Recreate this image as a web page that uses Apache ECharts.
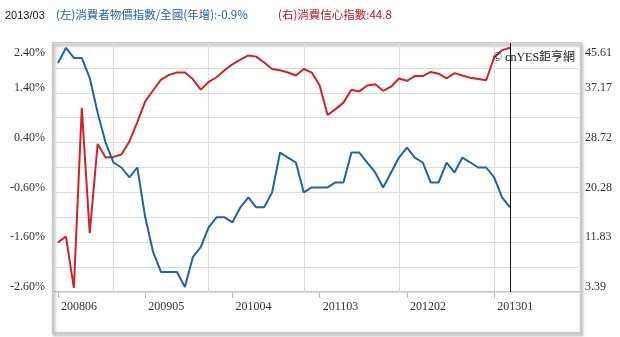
<!DOCTYPE html>
<html>
<head>
<meta charset="utf-8">
<script src="https://cdn.jsdelivr.net/npm/echarts@6/dist/echarts.min.js"></script>
<style>html,body{margin:0;padding:0;background:#fff;}#c{width:620px;height:337px;}</style>
</head>
<body>
<div id="c"></div>
<script>
const months = [
 '200806','200807','200808','200809','200810','200811','200812',
 '200901','200902','200903','200904','200905','200906','200907','200908','200909','200910','200911','200912',
 '201001','201002','201003','201004','201005','201006','201007','201008','201009','201010','201011','201012',
 '201101','201102','201103','201104','201105','201106','201107','201108','201109','201110','201111','201112',
 '201201','201202','201203','201204','201205','201206','201207','201208','201209','201210','201211','201212',
 '201301','201302','201303'
];
const cpi = [
 2.0,2.3,2.1,2.1,1.7,1.0,0.4,
 0.0,-0.1,-0.3,-0.1,-1.1,-1.8,-2.2,-2.2,-2.2,-2.5,-1.9,-1.7,
 -1.3,-1.1,-1.1,-1.2,-0.9,-0.7,-0.9,-0.9,-0.6,0.2,0.1,0.0,
 -0.6,-0.5,-0.5,-0.5,-0.4,-0.4,0.2,0.2,0.0,-0.2,-0.5,-0.2,
 0.1,0.3,0.1,0.0,-0.4,-0.4,0.0,-0.2,0.1,0.0,-0.1,-0.1,
 -0.3,-0.7,-0.9
];
const confidence = [
 11.8,12.8,4.1,34.6,13.4,28.5,26.2,
 26.3,26.7,28.9,32.2,35.7,37.6,39.4,40.2,40.6,40.6,39.5,37.7,
 39.0,39.8,41.0,42.0,42.8,43.5,43.3,42.3,41.2,41.0,40.6,40.1,
 41.2,40.6,38.4,33.4,34.4,35.5,37.7,37.4,38.4,38.6,37.5,38.2,
 39.6,39.2,40.0,40.0,40.7,40.4,39.6,40.5,40.1,39.7,39.5,39.3,
 43.2,44.4,44.8
];
const leftTickLabels = ['-2.60%','-1.60%','-0.60%','0.40%','1.40%','2.40%'];
const rightTickLabels = ['3.39','11.83','20.28','28.72','37.17','45.61'];
const leftMin = -2.6, leftMax = 2.4, leftStep = 0.5;
const rightMin = 3.39, rightMax = 45.61, rightStep = 4.222;

const serif = '"Liberation Serif","Noto Sans CJK TC",serif';
const cjk = '"Noto Sans CJK TC","Noto Sans",sans-serif';

function tickFmt(labels) {
  return function (v, i) {
    if (i % 2 !== 0) return '';
    const s = labels[i / 2];
    if (s === undefined) return '';
    return (i / 2 === labels.length - 1) ? '{t|' + s + '}' : '{n|' + s + '}';
  };
}
const richStyle = {
  n: {fontFamily: serif, fontSize: 12, color: '#333', padding: [0, 0, 10, 0]},
  t: {fontFamily: serif, fontSize: 12, color: '#333', padding: [20, 0, 0, 0]}
};

const chart = echarts.init(document.getElementById('c'), null, {renderer: 'canvas'});
const lastMonth = months[months.length - 1];
const dateText = lastMonth.slice(0, 4) + '/' + lastMonth.slice(4);

chart.setOption({
  animation: false,
  backgroundColor: '#fff',
  graphic: [
    {type: 'rect', shape: {x: 53, y: 43, width: 528, height: 290}, z: 0,
     style: {fill: 'none', stroke: '#c8c8c8', lineWidth: 2, shadowBlur: 3, shadowOffsetX: 1, shadowOffsetY: 2, shadowColor: 'rgba(0,0,0,0.35)'}},
    {type: 'text', left: 5, top: 10, style: {text: dateText, fontFamily: '"Liberation Sans","DejaVu Sans",sans-serif', fontSize: 11, fill: '#222'}},
    {type: 'text', left: 56, top: 9, style: {text: '(左)消費者物價指數/全國(年增):' + cpi[cpi.length - 1].toFixed(1) + '%', fontFamily: cjk, fontSize: 11.5, fill: '#2a5ca8'}},
    {type: 'text', left: 278, top: 9, style: {text: '(右)消費信心指數:' + confidence[confidence.length - 1].toFixed(1), fontFamily: cjk, fontSize: 11.5, fill: '#c0141b'}},
    {type: 'text', left: 493, top: 52, z: 5, style: {text: '© cnYES鉅亨網', fontFamily: serif, fontSize: 12, fill: '#222'}}
  ],
  grid: [
    {left: 53, right: 39, top: 43, bottom: 45, show: true, borderColor: '#c8c8c8', borderWidth: 2, backgroundColor: 'transparent'},
    {left: 58, right: 110, top: 43, bottom: 45}
  ],
  xAxis: [
    {type: 'value', gridIndex: 0, show: false, min: 0, max: 1},
    {type: 'category', gridIndex: 1, data: months, boundaryGap: false, position: 'bottom',
     axisLine: {show: false, onZero: false},
     axisTick: {show: true, length: 6, interval: function (i) { return i % 11 === 0; }, lineStyle: {color: '#bbb', width: 1}},
     axisLabel: {interval: function (i) { return i % 11 === 0; }, align: 'left', padding: [0, 0, 0, 3], margin: 9,
                 fontFamily: serif, fontSize: 12, color: '#333'},
     splitLine: {show: true, interval: function (i, v) { return String(v).slice(4) === '01'; }, lineStyle: {color: '#dcdcdc', width: 1}}
    }
  ],
  yAxis: [
    {type: 'value', gridIndex: 0, position: 'left', min: leftMin, max: leftMax, interval: leftStep,
     axisLine: {show: false}, axisTick: {show: false},
     axisLabel: {margin: 8, formatter: tickFmt(leftTickLabels), rich: richStyle},
     splitLine: {show: true, lineStyle: {color: '#dcdcdc', width: 1}}},
    {type: 'value', gridIndex: 0, position: 'right', min: rightMin, max: rightMax, interval: rightStep,
     axisLine: {show: false}, axisTick: {show: false},
     axisLabel: {margin: 4, formatter: tickFmt(rightTickLabels), rich: richStyle},
     splitLine: {show: false}},
    {type: 'value', gridIndex: 1, show: false, min: leftMin, max: leftMax, interval: leftStep, splitLine: {show: false}},
    {type: 'value', gridIndex: 1, show: false, position: 'right', min: rightMin, max: rightMax, interval: rightStep, splitLine: {show: false}}
  ],
  series: [
    {name: '消費信心指數', type: 'line', xAxisIndex: 1, yAxisIndex: 3, data: confidence,
     symbol: 'none', lineStyle: {color: '#d0222a', width: 2}, itemStyle: {color: '#d0222a'}, z: 2},
    {name: '消費者物價指數', type: 'line', xAxisIndex: 1, yAxisIndex: 2, data: cpi,
     symbol: 'none', lineStyle: {color: '#2063a8', width: 2}, itemStyle: {color: '#2063a8'}, z: 3,
     markLine: {silent: true, symbol: 'none', label: {show: false},
                lineStyle: {color: '#111', width: 1, type: 'solid'},
                data: [{xAxis: lastMonth}]}}
  ]
});
</script>
</body>
</html>
